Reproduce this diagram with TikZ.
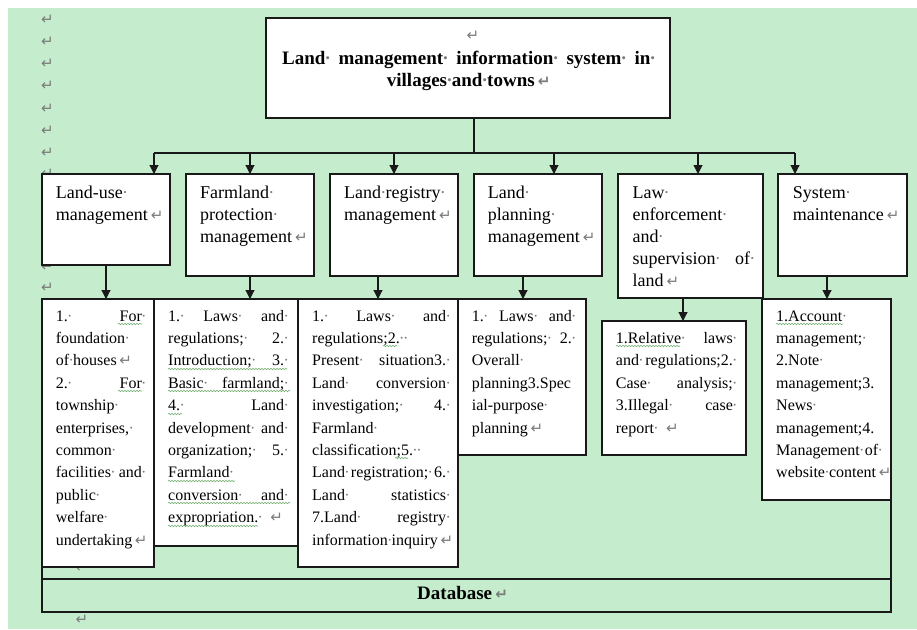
\documentclass[tikz,border=0pt]{standalone}
\usepackage{fontspec}
\setmainfont{Liberation Serif}
\newfontfamily\retfont{DejaVu Sans}
\usetikzlibrary{arrows.meta,decorations.pathmorphing}
\definecolor{bgreen}{RGB}{197,236,204}
\definecolor{mkgray}{RGB}{120,125,120}
\definecolor{lncol}{RGB}{25,25,25}
\definecolor{wvcol}{RGB}{110,175,110}
\hyphenpenalty=10000
\exhyphenpenalty=10000
\newcommand\wdot{\hbox to 0.25em{\hss\textcolor{mkgray}{\textperiodcentered}\hss}}
\newcommand\retg{{\retfont\fontsize{15}{15}\selectfont\textcolor{mkgray}{\symbol{"21B5}}}}
\newcommand\retm{\,\retg}
\newcommand\jfil{\nobreak\hskip 0pt plus 1filll\relax}
\newcommand\fsB{\fontsize{18}{22}\selectfont}
\newcommand\fsC{\fontsize{16}{22.4}\selectfont}
\newcommand\fsT{\fontsize{19}{22}\selectfont\bfseries}
\begin{document}
\begin{tikzpicture}[x=1pt,y=-1pt,
 box/.style={draw=lncol, line width=1.1pt, fill=white, anchor=north west, inner sep=0pt, outer sep=0pt},
 lvltwo/.style={anchor=north west, inner sep=0pt, align=left, text width=#1, font=\fsB},
 lvlthree/.style={anchor=north west, inner sep=0pt, align=left, text width=#1, font=\fsC},
 mk/.style={inner sep=0pt},
 conn/.style={draw=lncol, line width=1.1pt},
 arr/.style={conn, -{Triangle[length=9pt,width=9pt]}},
 wave/.style={draw=wvcol, line width=0.6pt, decorate, decoration={snake, segment length=3pt, amplitude=0.7pt}}]
\useasboundingbox (0,0) rectangle (917,629);
\fill[white] (0,0) rectangle (917,629);
\fill[bgreen] (8,8) rectangle (917,629);
% paragraph marks on the left
\foreach \i/\yy in {1/20,2/41.5,3/63.5,4/86,5/108.5,6/131,7/153,8/174,9/267,10/287.5}
  \node[mk] (lm\i) at (47.5,\yy) {\retg};
\node[mk] (lmA) at (82,568) {\retg};
\node[mk] (lmB) at (82,620) {\retg};
% title
\node[box, minimum width=404pt, minimum height=100pt] (title) at (266,18) {};
\node[mk] (titlemark) at (473,36) {\retg};
\node[lvltwo=373pt, font=\fsT] (titletext) at (282,48.9)
 {\strut Land\wdot\jfil management\wdot\jfil information\wdot\jfil system\wdot\jfil in\wdot\\
  \mbox{}\jfil villages\wdot and\wdot towns\retm\jfil\mbox{}};
% bus
\coordinate (jn) at (474,153);
\coordinate (busL) at (154,153);
\coordinate (busR) at (795,153);
\draw[conn] (title.south -| jn) -- (jn);
\draw[conn] (busL) -- (busR);
% level 2 boxes
\node[box, minimum width=128pt, minimum height=91pt] (b1) at (42,174) {};
\node[box, minimum width=128pt, minimum height=102pt] (b2) at (186,174) {};
\node[box, minimum width=128pt, minimum height=102pt] (b3) at (330,174) {};
\node[box, minimum width=128pt, minimum height=102pt] (b4) at (474,174) {};
\node[box, minimum width=145pt, minimum height=124pt] (b5) at (618,174) {};
\node[box, minimum width=129pt, minimum height=102pt] (b6) at (778,174) {};
\draw[arr] (busL) -- (busL |- b1.north);
\draw[arr] (b2.north |- busL) -- (b2.north);
\draw[arr] (b3.north |- busL) -- (b3.north);
\draw[arr] ([xshift=16pt]b4.north |- busL) -- ([xshift=16pt]b4.north);
\draw[arr] ([xshift=7.5pt]b5.north |- busL) -- ([xshift=7.5pt]b5.north);
\draw[arr] (busR) -- (busR |- b6.north);
\node[lvltwo=115pt] (t1) at (55.7,182.6) {\strut Land-use\wdot\\management\retm};
\node[lvltwo=115pt] (t2) at (200,182.6) {\strut Farmland\wdot\\protection\wdot\\management\retm};
\node[lvltwo=115pt] (t3) at (344,182.6) {\strut Land\wdot registry\wdot\\management\retm};
\node[lvltwo=115pt] (t4) at (487.7,182.6) {\strut Land\wdot\\planning\wdot\\management\retm};
\node[lvltwo=122pt] (t5) at (632.3,182.6) {\strut Law\wdot\\enforcement\wdot\\and\wdot\\supervision\wdot\jfil of\wdot\\land\retm};
\node[lvltwo=115pt] (t6) at (792.7,182.6) {\strut System\wdot\\maintenance\retm};
% database frame
\node[box, fill=none, minimum width=849pt, minimum height=33pt] (db) at (42,579) {};
\node[anchor=base west, inner sep=0pt, font=\fsT] (dbt) at (417,599.3) {Database\retm};
% level 3 boxes
\node[box, minimum width=112pt, minimum height=268pt] (A) at (42,299) {};
\node[box, minimum width=144pt, minimum height=247pt] (B) at (154,299) {};
\node[box, minimum width=160pt, minimum height=268pt] (C) at (298,299) {};
\node[box, minimum width=128pt, minimum height=156pt] (D) at (458,299) {};
\node[box, minimum width=144pt, minimum height=134pt] (E) at (602,321) {};
\node[box, minimum width=129pt, minimum height=201pt] (F) at (762,299) {};
\draw[conn] (db.north west) -- (A.south west);
\draw[conn] (db.north east) -- (F.south east);
\draw[arr] (b1.south) -- (b1.south |- A.north);
\draw[arr] (b2.south) -- (b2.south |- B.north);
\draw[arr] ([xshift=-16pt]b3.south) -- ([xshift=-16pt]b3.south |- C.north);
\draw[arr] ([xshift=-15pt]b4.south) -- ([xshift=-15pt]b4.south |- D.north);
\draw[arr] ([xshift=-7.5pt]b5.south) -- ([xshift=-7.5pt]b5.south |- E.north);
\draw[arr] ([xshift=-15.5pt]b6.south) -- ([xshift=-15.5pt]b6.south |- F.north);
% level 3 texts
\node[lvlthree=90pt] (tA) at (55.7,305.3) {\strut 1.\wdot\jfil For\wdot\\foundation\wdot\\of\wdot houses\retm\\2.\wdot\jfil For\wdot\\township\wdot\\enterprises,\wdot\\common\wdot\\facilities\wdot\jfil and\wdot\\public\wdot\\welfare\wdot\\undertaking\retm};
\node[lvlthree=120pt] (tB) at (168,305.3) {\strut 1.\wdot\jfil Laws\wdot\jfil and\wdot\\regulations;\wdot\jfil 2.\wdot\\Introduction;\wdot\jfil 3.\wdot\\Basic\wdot\jfil farmland;\wdot\\4.\wdot\jfil Land\wdot\\development\wdot\jfil and\wdot\\organization;\wdot\jfil 5.\wdot\\Farmland\wdot\\conversion\wdot\jfil and\wdot\\expropriation.\wdot\ \retm};
\node[lvlthree=138pt] (tC) at (312,305.3) {\strut 1.\wdot\jfil Laws\wdot\jfil and\wdot\\regulations;2.\wdot\wdot\\Present\wdot\jfil situation3.\wdot\\Land\wdot\jfil conversion\wdot\\investigation;\wdot\jfil 4.\wdot\\Farmland\wdot\\classification;5.\wdot\wdot\\Land\wdot\jfil registration;\wdot\jfil 6.\wdot\\Land\wdot\jfil statistics\wdot\\7.Land\wdot\jfil registry\wdot\\information\wdot inquiry\retm};
\node[lvlthree=104pt] (tD) at (471.7,305.3) {\strut 1.\wdot\jfil Laws\wdot\jfil and\wdot\\regulations;\wdot\jfil 2.\wdot\\Overall\wdot\\planning3.Spec\\ial-purpose\wdot\\planning\retm};
\node[lvlthree=121pt] (tE) at (615.7,327.6) {\strut 1.Relative\wdot\jfil laws\wdot\\and\wdot\jfil regulations;2.\wdot\\Case\wdot\jfil analysis;\wdot\\3.Illegal\wdot\jfil case\wdot\\report\wdot\ \retm};
\node[lvlthree=106pt] (tF) at (776,305.3) {\strut 1.Account\wdot\\management;\wdot\\2.Note\wdot\\management;3.\\News\wdot\\management;4.\\Management\wdot\jfil of\wdot\\website\wdot content\retm};
% spell-check wavy underlines
\draw[wave] (118,324) -- (142,324);
\draw[wave] (118,391) -- (142,391);
\draw[wave] (168,369) -- (287,369);
\draw[wave] (168,391) -- (290,391);
\draw[wave] (168,414) -- (182,414);
\draw[wave] (168,481) -- (235,481);
\draw[wave] (168,503) -- (290,503);
\draw[wave] (168,526) -- (258,526);
\draw[wave] (383,346) -- (397,346);
\draw[wave] (395,458) -- (408,458);
\draw[wave] (616,346) -- (680,346);
\draw[wave] (776,324) -- (843,324);
\end{tikzpicture}
\end{document}
